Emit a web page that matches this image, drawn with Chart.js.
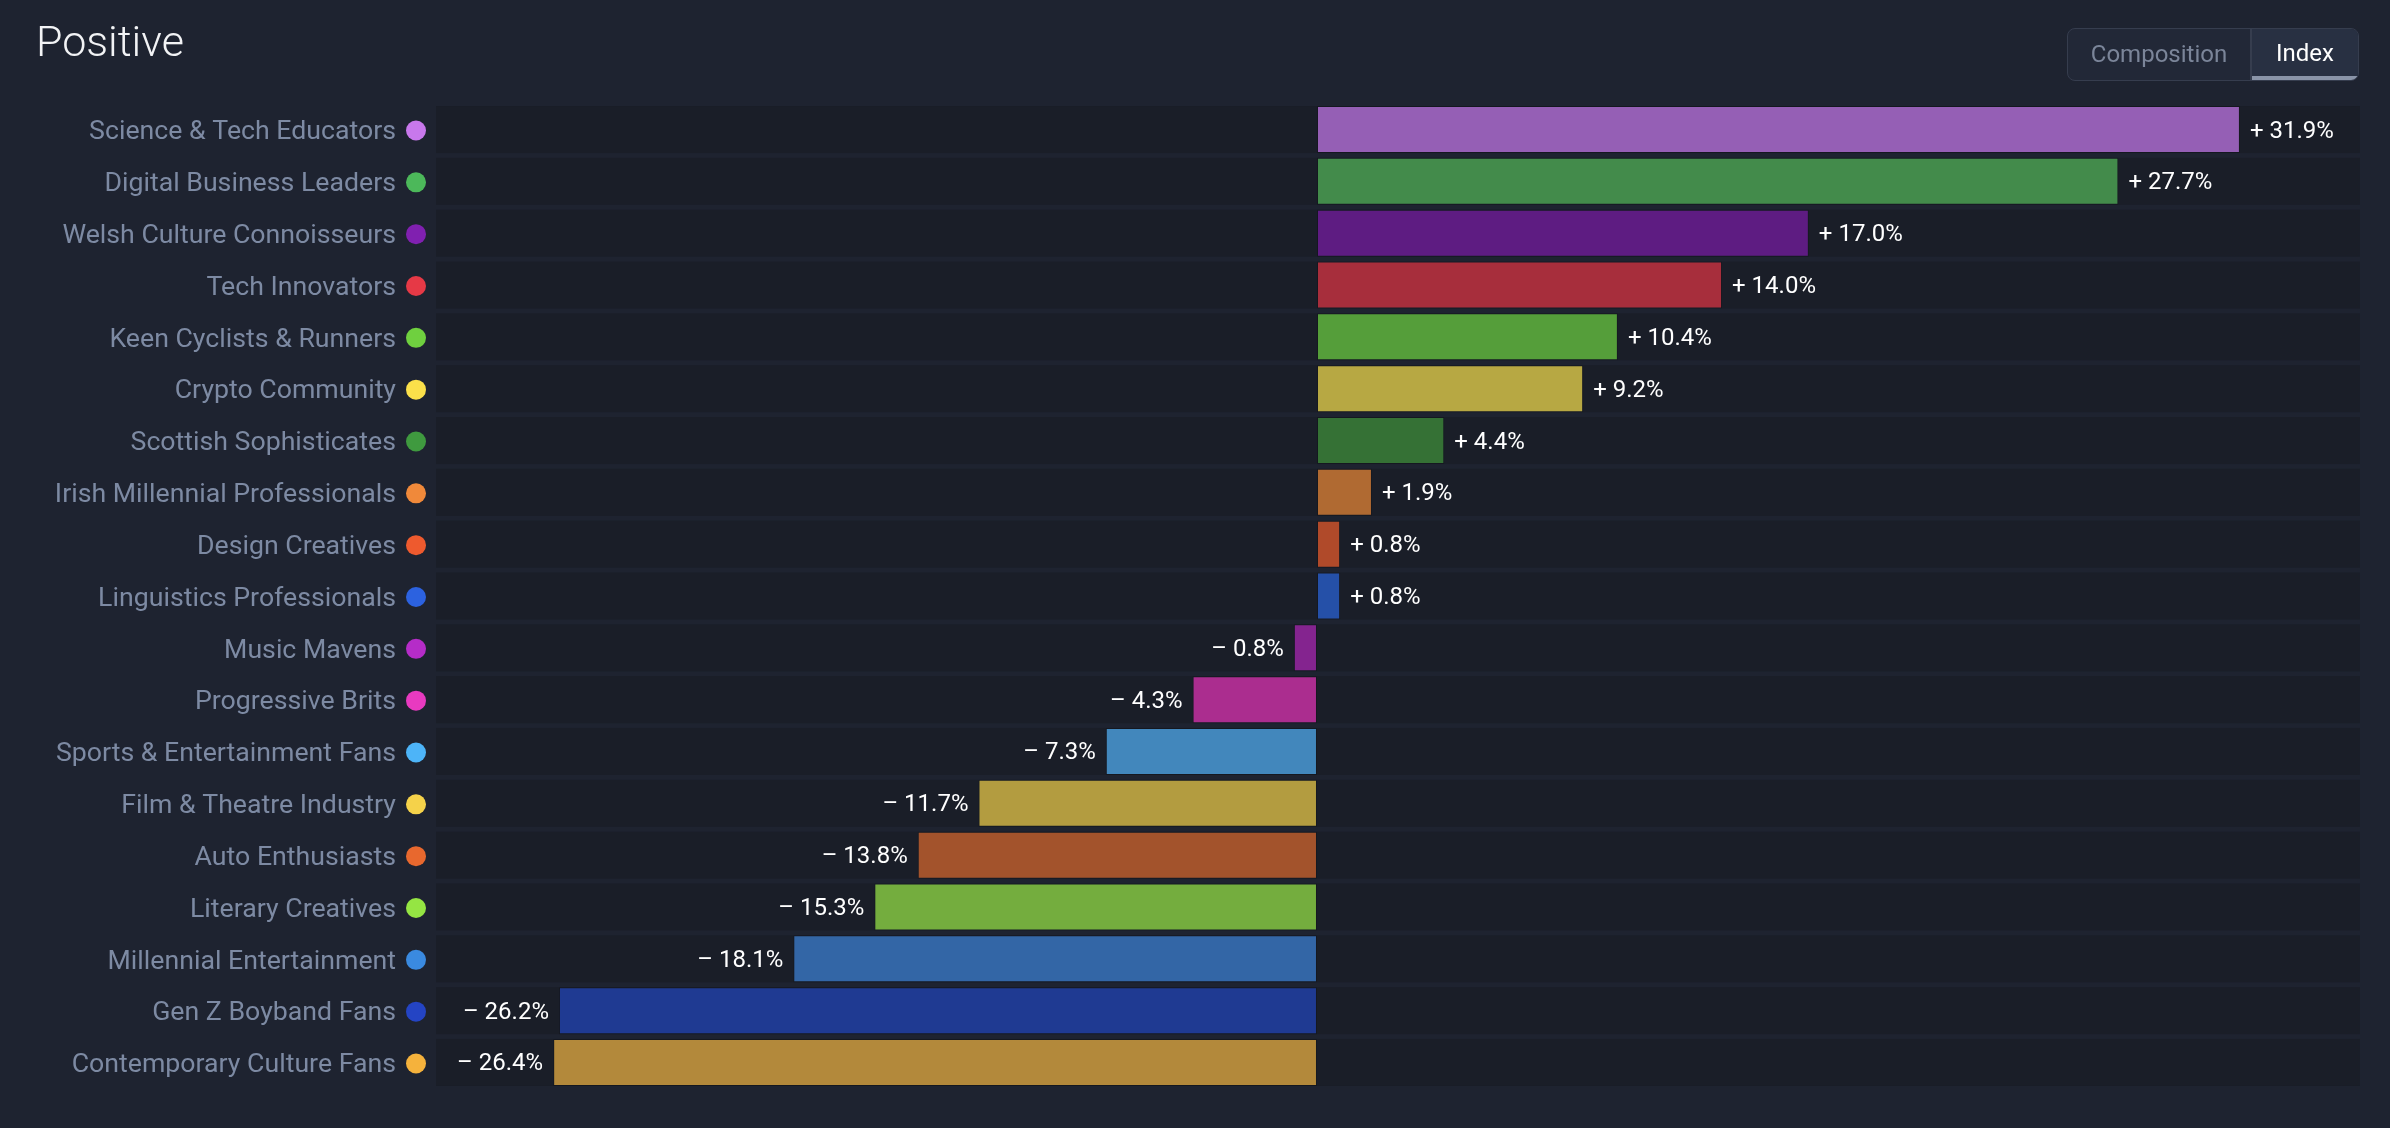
<!DOCTYPE html>
<html>
<head>
<meta charset="utf-8">
<title>Positive</title>
<script src="https://cdn.jsdelivr.net/npm/chart.js@4/dist/chart.umd.min.js"></script>
<style>
  html, body { margin:0; padding:0; background:#1e2330; font-family: Roboto, "Noto Sans", sans-serif; }
  .wrap { position:relative; width:2390px; height:1128px; overflow:hidden; }
  .chartBox { position:absolute; left:0; top:0; width:2390px; height:1128px; }
  h1 { position:absolute; left:36px; top:13px; margin:0; font-weight:300; font-size:43px; color:#f2f3f5; line-height:56px; }
  .toggle { position:absolute; left:2067px; top:28px; width:290px; height:51px; border:1px solid #363d4e; border-radius:8px; background:#222837; display:flex; overflow:hidden; }
  .toggle div { font-size:24px; line-height:51px; text-align:center; box-sizing:border-box; }
  .toggle .off { width:184px; color:#7b8599; border-right:2px solid #363d4e; }
  .toggle .on { flex:1; color:#ffffff; background:#283042; border-bottom:4px solid #8a94a8; line-height:49px; }
</style>
</head>
<body>
<div class="wrap">
  <div class="chartBox"><canvas id="chart"></canvas></div>
  <h1>Positive</h1>
  <div class="toggle"><div class="off">Composition</div><div class="on">Index</div></div>
</div>
<script>
const categories = [
  "Science & Tech Educators","Digital Business Leaders","Welsh Culture Connoisseurs","Tech Innovators",
  "Keen Cyclists & Runners","Crypto Community","Scottish Sophisticates","Irish Millennial Professionals",
  "Design Creatives","Linguistics Professionals","Music Mavens","Progressive Brits",
  "Sports & Entertainment Fans","Film & Theatre Industry","Auto Enthusiasts","Literary Creatives",
  "Millennial Entertainment","Gen Z Boyband Fans","Contemporary Culture Fans"
];
const indexValues = [31.9, 27.7, 17.0, 14.0, 10.4, 9.2, 4.4, 1.9, 0.8, 0.8, -0.8, -4.3, -7.3, -11.7, -13.8, -15.3, -18.1, -26.2, -26.4];
const barColors = [
  "#955fb5","#438b4b","#5e1c82","#a72e3c","#559e3a","#b7a843","#357135","#b06a32","#b04a2a","#2550a8",
  "#84248f","#ab2d8f","#4287bc","#b39c40","#a3532c","#74ad3e","#3366a6","#1f3a92","#b3893b"
];
const dotColors = [
  "#c878ec","#4cb85a","#8020b0","#e63946","#6fd03f","#fbe04a","#3f9a3f","#f0893a","#ee5a2e","#2c62e0",
  "#b52cc8","#e83ac0","#4db4f8","#f5d24a","#e8682e","#95e543","#3a8ae0","#2444c4","#f5b23c"
];
const axisMin = -30.45;
const axisMax = 36.05;

const fmt = (v) => (v >= 0 ? "+ " : "\u2013 ") + Math.abs(v).toFixed(1) + "%";

// dark row bands behind bars + colored dots beside labels
const rowDecor = {
  id: "rowDecor",
  beforeDatasetsDraw(chart){
    const { ctx, chartArea, scales: { y } } = chart;
    const pitch = (chartArea.bottom - chartArea.top) / categories.length;
    const h = pitch * 0.907;
    ctx.save();
    ctx.fillStyle = "#1a1e28";
    categories.forEach((c, i) => {
      const cy = y.getPixelForValue(i);
      ctx.fillRect(chartArea.left, cy - h/2, chartArea.right - chartArea.left, h);
    });
    ctx.restore();
  },
  afterDraw(chart){
    const { ctx, chartArea, scales: { y } } = chart;
    ctx.save();
    categories.forEach((c, i) => {
      const cy = y.getPixelForValue(i);
      ctx.beginPath();
      ctx.arc(chartArea.left - 20, cy + 1, 10, 0, Math.PI*2);
      ctx.fillStyle = dotColors[i];
      ctx.fill();
    });
    ctx.restore();
  }
};

const valueLabels = {
  id: "valueLabels",
  afterDatasetsDraw(chart){
    const { ctx } = chart;
    const meta = chart.getDatasetMeta(0);
    ctx.save();
    ctx.font = "24px Roboto";
    ctx.fillStyle = "#ffffff";
    ctx.textBaseline = "middle";
    meta.data.forEach((bar, i) => {
      const v = indexValues[i];
      if (v >= 0){
        ctx.textAlign = "left";
        ctx.fillText(fmt(v), bar.x + 10, bar.y + 2);
      } else {
        ctx.textAlign = "right";
        ctx.fillText(fmt(v), bar.x - 10, bar.y + 2);
      }
    });
    ctx.restore();
  }
};

new Chart(document.getElementById("chart"), {
  type: "bar",
  data: {
    labels: categories,
    datasets: [{
      data: indexValues,
      backgroundColor: barColors,
      borderColor: "rgba(0,0,0,0.18)",
      borderWidth: 1,
      borderSkipped: false,
      barPercentage: 0.907,
      categoryPercentage: 1
    }]
  },
  options: {
    indexAxis: "y",
    responsive: true,
    maintainAspectRatio: false,
    animation: false,
    layout: { padding: { left: 0, right: 30, top: 103.6, bottom: 39.6 } },
    plugins: { legend: { display: false }, tooltip: { enabled: false } },
    scales: {
      x: { min: axisMin, max: axisMax, display: false },
      y: {
        grid: { display: false },
        border: { display: false },
        ticks: { color: "#7d8aa3", font: { family: "Roboto", size: 26.7 }, padding: 32, labelOffset: 3 },
        afterFit(scale){
          scale.width = 436;
          scale.paddingTop = 0;
          scale.paddingBottom = 0;
        }
      }
    }
  },
  plugins: [rowDecor, valueLabels]
});
</script>
</body>
</html>
